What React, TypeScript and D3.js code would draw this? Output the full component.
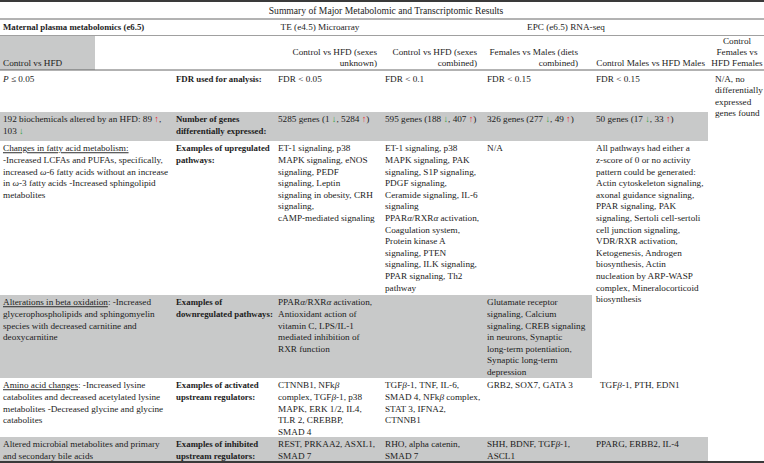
import React, { useEffect, useRef } from "react";
import * as d3 from "d3";

const W = 764;
const H = 463;

const title = "Summary of Major Metabolomic and Transcriptomic Results";
const groupLabels = ["Maternal plasma metabolomics (e6.5)", "TE (e4.5) Microarray", "EPC (e6.5) RNA-seq"];

const colHeaders: string[][] = [
  ["Control vs HFD"],
  [],
  ["Control vs HFD (sexes", "unknown)"],
  ["Control vs HFD (sexes", "combined)"],
  ["Females vs Males (diets", "combined)"],
  ["Control Males vs HFD Males"],
  ["Control", "Females vs", "HFD Females"],
];

const fdrRow: string[][] = [
  ["*P* ≤ 0.05"],
  ["FDR used for analysis:"],
  ["FDR < 0.05"],
  ["FDR < 0.1"],
  ["FDR < 0.15"],
  ["FDR < 0.15"],
  ["N/A, no", "differentially", "expressed", "genes found"],
];

const geneRow: string[][] = [
  ["192 biochemicals altered by an HFD: 89 ↑,", "103 ↓"],
  ["Number of genes", "differentially expressed:"],
  ["5285 genes (1 ↓, 5284 ↑)"],
  ["595 genes (188 ↓, 407 ↑)"],
  ["326 genes (277 ↓, 49 ↑)"],
  ["50 genes (17 ↓, 33 ↑)"],
  [],
];

const upRow: string[][] = [
  [
    "_Changes in fatty acid metabolism:_",
    "-Increased LCFAs and PUFAs, specifically,",
    "increased ω-6 fatty acids without an increase",
    "in ω-3 fatty acids -Increased sphingolipid",
    "metabolites",
  ],
  ["Examples of upregulated", "pathways:"],
  [
    "ET-1 signaling, p38",
    "MAPK signaling, eNOS",
    "signaling, PEDF",
    "signaling, Leptin",
    "signaling in obesity, CRH",
    "signaling,",
    "cAMP-mediated signaling",
  ],
  [
    "ET-1 signaling, p38",
    "MAPK signaling, PAK",
    "signaling, S1P signaling,",
    "PDGF signaling,",
    "Ceramide signaling, IL-6",
    "signaling",
    "PPARα/RXRα activation,",
    "Coagulation system,",
    "Protein kinase A",
    "signaling, PTEN",
    "signaling, ILK signaling,",
    "PPAR signaling, Th2",
    "pathway",
  ],
  ["N/A"],
  [
    "All pathways had either a",
    "z-score of 0 or no activity",
    "pattern could be generated:",
    "Actin cytoskeleton signaling,",
    "axonal guidance signaling,",
    "PPAR signaling, PAK",
    "signaling, Sertoli cell-sertoli",
    "cell junction signaling,",
    "VDR/RXR activation,",
    "Ketogenesis, Androgen",
    "biosynthesis, Actin",
    "nucleation by ARP-WASP",
    "complex, Mineralocorticoid",
    "biosynthesis",
  ],
  [],
];

const downRow: string[][] = [
  [
    "_Alterations in beta oxidation_: -Increased",
    "glycerophospholipids and sphingomyelin",
    "species with decreased carnitine and",
    "deoxycarnitine",
  ],
  ["Examples of", "downregulated pathways:"],
  ["PPARα/RXRα activation,", "Antioxidant action of", "vitamin C, LPS/IL-1", "mediated inhibition of", "RXR function"],
  [],
  [
    "Glutamate receptor",
    "signaling, Calcium",
    "signaling, CREB signaling",
    "in neurons, Synaptic",
    "long-term potentiation,",
    "Synaptic long-term",
    "depression",
  ],
  [],
  [],
];

const actRow: string[][] = [
  [
    "_Amino acid changes_: -Increased lysine",
    "catabolites and decreased acetylated lysine",
    "metabolites -Decreased glycine and glycine",
    "catabolites",
  ],
  ["Examples of activated", "upstream regulators:"],
  ["CTNNB1, NFkβ", "complex, TGFβ-1, p38", "MAPK, ERK 1/2, IL4,", "TLR 2, CREBBP,", "SMAD 4"],
  ["TGFβ-1, TNF, IL-6,", "SMAD 4, NFkβ complex,", "STAT 3, IFNA2,", "CTNNB1"],
  ["GRB2, SOX7, GATA 3"],
  ["TGFβ-1, PTH, EDN1"],
  [],
];

const inhRow: string[][] = [
  ["Altered microbial metabolites and primary", "and secondary bile acids"],
  ["Examples of inhibited", "upstream regulators:"],
  ["REST, PRKAA2, ASXL1,", "SMAD 7"],
  ["RHO, alpha catenin,", "SMAD 7"],
  ["SHH, BDNF, TGFβ-1,", "ASCL1"],
  ["PPARG, ERBB2, IL-4"],
  [],
];

// ---- layout ----
const FONT = "'Liberation Serif', 'Times New Roman', serif";
const FS = 9.2;
const FS_BOLD = 8.8;
const FS_TITLE = 9.6;
const LH = 11.6;
const GREY = "#c8c9c9";
const INK = "#1c1c1c";

type Seg = { t: string; u: boolean; i: boolean; c: string | null };

function parse(s: string): Seg[] {
  const segs: Seg[] = [];
  let u = false;
  let it = false;
  for (const ch of s) {
    if (ch === "_") { u = !u; continue; }
    if (ch === "*") { it = !it; continue; }
    const greek = /[α-ωΑ-Ω]/.test(ch);
    const c = ch === "↑" ? "#e8202a" : ch === "↓" ? "#2ca03c" : null;
    const seg: Seg = { t: ch, u, i: it || greek, c };
    const last = segs[segs.length - 1];
    if (last && last.u === seg.u && last.i === seg.i && last.c === seg.c) last.t += ch;
    else segs.push(seg);
  }
  return segs;
}

export default function App() {
  const ref = useRef<SVGSVGElement | null>(null);

  useEffect(() => {
    const svg = d3.select(ref.current);
    svg.selectAll("*").remove();

    const colX = d3.scaleOrdinal<number, number>().domain(d3.range(7)).range([3, 176, 278, 385, 487, 596, 715]);

    const g = svg.append("g");

    const drawLines = (
      lines: string[],
      x: number,
      baseY: number,
      opts: { bold?: boolean; anchor?: string; lh?: number; size?: number } = {}
    ) => {
      lines.forEach((ln, k) => {
        const t = g
          .append("text")
          .attr("x", x)
          .attr("y", baseY + (opts.lh ?? LH) * k)
          .attr("font-family", FONT)
          .attr("font-size", opts.size ?? (opts.bold ? FS_BOLD : FS))
          .attr("fill", INK)
          .attr("font-weight", opts.bold ? "bold" : "normal")
          .attr("text-anchor", opts.anchor || "start");
        parse(ln).forEach((s) => {
          const ts = t.append("tspan").text(s.t);
          if (s.i) ts.attr("font-style", "italic");
          if (s.c) ts.attr("fill", s.c);
          if (s.u) ts.style("text-decoration", "underline");
        });
      });
    };

    // grey backgrounds
    const greyRects = [
      { x0: 0, x1: 95, y0: 36, y1: 70 },
      { x0: 0, x1: 708, y0: 112, y1: 141 },
      { x0: 0, x1: 592, y0: 295, y1: 378 },
      { x0: 0, x1: 708, y0: 437, y1: 461 },
    ];
    g.selectAll("rect.grey")
      .data(greyRects)
      .join("rect")
      .attr("class", "grey")
      .attr("x", (d) => d.x0)
      .attr("y", (d) => d.y0)
      .attr("width", (d) => d.x1 - d.x0)
      .attr("height", (d) => d.y1 - d.y0)
      .attr("fill", GREY);

    // rules
    const rules = [
      { y: 1, w: 2, c: "#3a3a3a" },
      { y: 19, w: 0.9, c: "#555" },
      { y: 35.5, w: 0.8, c: "#888" },
      { y: 70, w: 0.9, c: "#555" },
      { y: 462, w: 2, c: "#3a3a3a" },
    ];
    g.selectAll("line.rule")
      .data(rules)
      .join("line")
      .attr("class", "rule")
      .attr("x1", 0)
      .attr("x2", W)
      .attr("y1", (d) => d.y)
      .attr("y2", (d) => d.y)
      .attr("stroke", (d) => d.c)
      .attr("stroke-width", (d) => d.w);

    // title
    drawLines([title], 386, 13.5, { anchor: "middle", size: FS_TITLE });

    // group labels
    drawLines([groupLabels[0]], 3, 30, { bold: true });
    drawLines([groupLabels[1]], 320, 30, { anchor: "middle" });
    drawLines([groupLabels[2]], 566, 30, { anchor: "middle" });

    // column headers (bottom aligned)
    const headBottom = 65.5;
    const headLH = 11;
    const headAnchor: { x: number; a: string }[] = [
      { x: colX(0), a: "start" },
      { x: colX(1), a: "start" },
      { x: 377, a: "end" },
      { x: 477, a: "end" },
      { x: 578, a: "end" },
      { x: 705, a: "end" },
      { x: 737, a: "middle" },
    ];
    colHeaders.forEach((lines, c) => {
      if (!lines.length) return;
      const y0 = headBottom - headLH * (lines.length - 1);
      drawLines(lines, headAnchor[c].x, y0, { anchor: headAnchor[c].a, lh: headLH });
    });

    // body rows
    const bodyRows = [
      { cells: fdrRow, top: 70, pad: 11.5 },
      { cells: geneRow, top: 112, pad: 10.3 },
      { cells: upRow, top: 141, pad: 10.3 },
      { cells: downRow, top: 295, pad: 10.3 },
      { cells: actRow, top: 378, pad: 10.3 },
      { cells: inhRow, top: 437, pad: 10.3 },
    ];
    bodyRows.forEach((row) => {
      row.cells.forEach((lines, c) => {
        if (!lines.length) return;
        let x = colX(c);
        if (row.cells === actRow && c === 5) x += 4;
        drawLines(lines, x, row.top + row.pad, { bold: c === 1 });
      });
    });
  }, []);

  return (
    <svg
      ref={ref}
      width={W}
      height={H}
      viewBox={`0 0 ${W} ${H}`}
      style={{ position: "fixed", left: 0, top: 0, display: "block", background: "#fff" }}
    />
  );
}
